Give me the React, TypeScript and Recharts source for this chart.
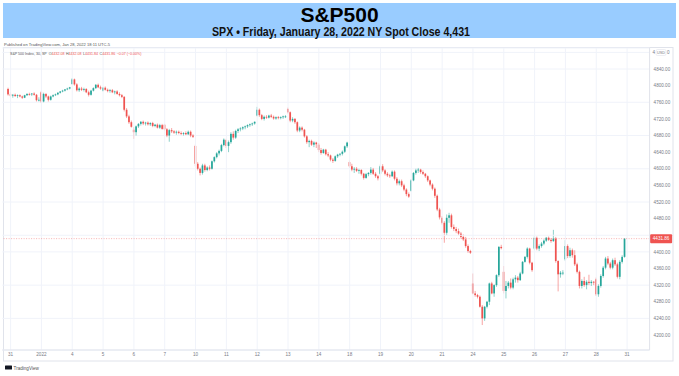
import React from "react";
import { ComposedChart, Bar, XAxis, YAxis, CartesianGrid, ReferenceLine } from "recharts";

type C = [number, number, number, number]; // open, high, low, close

const title = "S&P500";
const subtitle = "SPX \u2022 Friday, January 28, 2022 NY Spot Close 4,431";
const published = "Published on TradingView.com, Jan 28, 2022 18:11 UTC-5";
const legendName = "S&P 500 Index, 30, SP";
const legendO = "4432.08";
const legendH = "4432.08";
const legendL = "4431.84";
const legendC = "4431.86";
const legendChg = "\u22120.07 (\u22120.00%)";
const lastClose = 4431.86;

const dayLabels = ["31", "2022", "4", "5", "6", "7", "10", "11", "12", "13", "14", "18", "19", "20", "21", "24", "25", "26", "27", "28", "31"];
// labelled price ticks (4440 and 4880 are covered in the reference by the price tag / currency pill)
const yTicks = [4200, 4240, 4280, 4320, 4360, 4400, 4480, 4520, 4560, 4600, 4640, 4680, 4720, 4760, 4800, 4840];
const hiddenGridTicks = [4440, 4880];

const dec30: C[] = [[4792, 4795, 4776, 4779]];
const dec31: C[] = [
  [4779, 4784, 4772, 4776], [4776, 4780, 4771, 4778], [4778, 4781, 4773, 4775], [4775, 4779, 4770, 4777],
  [4777, 4779, 4772, 4774], [4774, 4776, 4768, 4771], [4771, 4778, 4770, 4777], [4777, 4782, 4775, 4780],
  [4780, 4783, 4776, 4779], [4779, 4782, 4775, 4781], [4781, 4784, 4776, 4778], [4778, 4780, 4762, 4765],
  [4765, 4772, 4762, 4766],
];
const jan3: C[] = [
  [4784, 4787, 4758, 4762], [4762, 4783, 4760, 4780], [4780, 4782, 4770, 4774], [4774, 4776, 4762, 4766],
  [4766, 4776, 4764, 4774], [4774, 4779, 4772, 4777], [4777, 4781, 4775, 4779], [4779, 4784, 4777, 4783],
  [4783, 4787, 4781, 4786], [4786, 4790, 4784, 4788], [4788, 4792, 4786, 4791], [4791, 4795, 4789, 4793],
  [4793, 4797, 4791, 4796],
];
const jan4: C[] = [
  [4804, 4818, 4802, 4815], [4815, 4817, 4800, 4803], [4803, 4806, 4786, 4789], [4789, 4796, 4785, 4793],
  [4793, 4797, 4787, 4790], [4790, 4795, 4786, 4792], [4792, 4794, 4782, 4784], [4784, 4788, 4774, 4778],
  [4778, 4790, 4776, 4788], [4788, 4796, 4786, 4794], [4794, 4804, 4792, 4802], [4802, 4805, 4794, 4796],
  [4796, 4800, 4790, 4793],
];
const jan5: C[] = [
  [4788, 4797, 4786, 4795], [4795, 4798, 4788, 4790], [4790, 4793, 4784, 4787], [4787, 4792, 4783, 4789],
  [4789, 4792, 4782, 4784], [4784, 4788, 4779, 4786], [4786, 4789, 4778, 4780], [4780, 4784, 4774, 4777],
  [4777, 4780, 4770, 4773], [4773, 4775, 4738, 4742], [4742, 4746, 4722, 4726], [4726, 4730, 4708, 4712],
  [4712, 4716, 4699, 4701],
];
const jan6: C[] = [
  [4694, 4700, 4672, 4688], [4688, 4704, 4680, 4702], [4702, 4710, 4698, 4708], [4708, 4715, 4704, 4713],
  [4713, 4716, 4705, 4709], [4709, 4713, 4704, 4711], [4711, 4714, 4704, 4707], [4707, 4712, 4703, 4710],
  [4710, 4713, 4700, 4703], [4703, 4708, 4700, 4706], [4706, 4709, 4697, 4699], [4699, 4708, 4696, 4705],
  [4705, 4708, 4694, 4696],
];
const jan7: C[] = [
  [4706, 4708, 4692, 4695], [4695, 4698, 4676, 4680], [4680, 4696, 4665, 4693], [4693, 4698, 4686, 4690],
  [4690, 4693, 4684, 4687], [4687, 4692, 4682, 4689], [4689, 4692, 4683, 4686], [4686, 4690, 4681, 4684],
  [4684, 4688, 4680, 4686], [4686, 4690, 4681, 4683], [4683, 4692, 4681, 4689], [4689, 4692, 4676, 4680],
  [4680, 4683, 4674, 4677],
];
const jan10: C[] = [
  [4655, 4658, 4606, 4612], [4612, 4616, 4596, 4600], [4600, 4603, 4584, 4590], [4590, 4612, 4586, 4608],
  [4608, 4612, 4593, 4597], [4597, 4606, 4594, 4603], [4603, 4608, 4596, 4600], [4600, 4620, 4598, 4618],
  [4618, 4630, 4615, 4628], [4628, 4640, 4625, 4637], [4637, 4646, 4632, 4643], [4643, 4660, 4640, 4657],
  [4657, 4673, 4654, 4670],
];
const jan11: C[] = [
  [4669, 4672, 4650, 4655], [4655, 4668, 4640, 4664], [4664, 4688, 4660, 4684], [4684, 4690, 4670, 4675],
  [4675, 4694, 4672, 4691], [4691, 4698, 4686, 4695], [4695, 4700, 4690, 4697], [4697, 4702, 4693, 4700],
  [4700, 4704, 4695, 4702], [4702, 4707, 4698, 4705], [4705, 4709, 4701, 4707], [4707, 4711, 4703, 4709],
  [4709, 4714, 4706, 4713],
];
const jan12: C[] = [
  [4728, 4749, 4726, 4742], [4742, 4745, 4725, 4729], [4729, 4732, 4717, 4720], [4720, 4728, 4716, 4725],
  [4725, 4729, 4720, 4723], [4723, 4730, 4721, 4728], [4728, 4732, 4722, 4725], [4725, 4728, 4718, 4721],
  [4721, 4726, 4718, 4724], [4724, 4727, 4719, 4722], [4722, 4726, 4719, 4724], [4724, 4728, 4720, 4726],
  [4726, 4729, 4722, 4726],
];
const jan13: C[] = [
  [4744, 4747, 4733, 4736], [4736, 4738, 4712, 4716], [4716, 4724, 4712, 4720], [4720, 4722, 4708, 4712],
  [4712, 4714, 4688, 4692], [4692, 4702, 4688, 4699], [4699, 4702, 4690, 4694], [4694, 4696, 4675, 4678],
  [4678, 4681, 4660, 4664], [4664, 4670, 4652, 4667], [4667, 4670, 4655, 4658], [4658, 4666, 4652, 4663],
  [4663, 4665, 4650, 4659],
];
const jan14: C[] = [
  [4658, 4662, 4640, 4645], [4645, 4650, 4634, 4638], [4638, 4648, 4636, 4646], [4646, 4648, 4632, 4635],
  [4635, 4640, 4628, 4632], [4632, 4634, 4618, 4622], [4622, 4626, 4614, 4619], [4619, 4632, 4617, 4630],
  [4630, 4636, 4626, 4634], [4634, 4638, 4630, 4636], [4636, 4644, 4632, 4641], [4641, 4656, 4638, 4654],
  [4654, 4665, 4650, 4663],
];
const jan18: C[] = [
  [4616, 4620, 4602, 4606], [4606, 4612, 4594, 4598], [4598, 4604, 4590, 4600], [4600, 4604, 4592, 4595],
  [4595, 4600, 4588, 4597], [4597, 4599, 4584, 4588], [4588, 4590, 4574, 4578], [4578, 4590, 4576, 4587],
  [4587, 4592, 4582, 4590], [4590, 4604, 4586, 4598], [4598, 4602, 4585, 4588], [4588, 4592, 4578, 4582],
  [4582, 4585, 4572, 4577],
];
const jan19: C[] = [
  [4588, 4610, 4584, 4606], [4606, 4611, 4592, 4596], [4596, 4599, 4584, 4588], [4588, 4592, 4580, 4584],
  [4584, 4588, 4578, 4582], [4582, 4596, 4580, 4593], [4593, 4596, 4572, 4576], [4576, 4580, 4560, 4565],
  [4565, 4574, 4560, 4570], [4570, 4574, 4556, 4560], [4560, 4564, 4546, 4550], [4550, 4553, 4534, 4539],
  [4539, 4543, 4530, 4533],
];
const jan20: C[] = [
  [4547, 4575, 4545, 4572], [4572, 4592, 4570, 4590], [4590, 4600, 4586, 4596], [4596, 4602, 4590, 4598],
  [4598, 4600, 4588, 4592], [4592, 4596, 4585, 4588], [4588, 4590, 4578, 4582], [4582, 4584, 4568, 4572],
  [4572, 4574, 4558, 4562], [4562, 4565, 4548, 4552], [4552, 4555, 4530, 4535], [4535, 4538, 4498, 4502],
  [4502, 4506, 4478, 4483],
];
const jan21: C[] = [
  [4482, 4486, 4466, 4470], [4470, 4474, 4422, 4446], [4446, 4490, 4440, 4482], [4482, 4494, 4470, 4488],
  [4488, 4492, 4456, 4460], [4460, 4466, 4450, 4455], [4455, 4460, 4445, 4450], [4450, 4456, 4440, 4444],
  [4444, 4448, 4432, 4436], [4436, 4442, 4426, 4430], [4430, 4436, 4410, 4414], [4414, 4418, 4398, 4402],
  [4402, 4405, 4395, 4398],
];
const jan24: C[] = [
  [4324, 4348, 4298, 4300], [4300, 4306, 4292, 4296], [4296, 4299, 4288, 4292], [4292, 4295, 4266, 4268],
  [4268, 4272, 4224, 4240], [4240, 4270, 4234, 4268], [4268, 4282, 4264, 4280], [4280, 4326, 4272, 4324],
  [4324, 4328, 4298, 4300], [4300, 4322, 4292, 4320], [4320, 4346, 4316, 4344], [4344, 4414, 4340, 4412],
  [4412, 4417, 4406, 4409],
];
const jan25: C[] = [
  [4352, 4366, 4300, 4306], [4306, 4330, 4288, 4318], [4318, 4330, 4312, 4326], [4326, 4336, 4310, 4314],
  [4314, 4338, 4310, 4334], [4334, 4344, 4326, 4338], [4338, 4342, 4326, 4332], [4332, 4352, 4330, 4348],
  [4348, 4378, 4346, 4376], [4376, 4390, 4374, 4388], [4388, 4411, 4384, 4408], [4408, 4410, 4370, 4374],
  [4374, 4376, 4352, 4356],
];
const jan26: C[] = [
  [4408, 4440, 4404, 4434], [4434, 4437, 4404, 4408], [4408, 4418, 4402, 4414], [4414, 4424, 4410, 4420],
  [4420, 4430, 4416, 4427], [4427, 4436, 4424, 4434], [4434, 4437, 4426, 4429], [4429, 4433, 4422, 4426],
  [4426, 4453, 4424, 4432], [4432, 4436, 4374, 4378], [4378, 4380, 4305, 4346], [4346, 4354, 4338, 4350],
  [4350, 4356, 4344, 4350],
];
const jan27: C[] = [
  [4382, 4428, 4378, 4414], [4414, 4418, 4385, 4390], [4390, 4410, 4386, 4404], [4404, 4408, 4386, 4392],
  [4392, 4404, 4366, 4370], [4370, 4374, 4348, 4352], [4352, 4355, 4312, 4318], [4318, 4334, 4312, 4330],
  [4330, 4340, 4316, 4320], [4320, 4332, 4310, 4328], [4328, 4345, 4320, 4325], [4325, 4332, 4318, 4328],
  [4328, 4330, 4320, 4326],
];
const jan28: C[] = [
  [4334, 4338, 4294, 4298], [4298, 4322, 4292, 4318], [4318, 4346, 4314, 4342], [4342, 4366, 4338, 4362],
  [4362, 4388, 4358, 4384], [4384, 4390, 4368, 4372], [4372, 4376, 4358, 4362], [4362, 4384, 4358, 4380],
  [4380, 4386, 4366, 4370], [4370, 4374, 4336, 4340], [4340, 4380, 4334, 4376], [4376, 4392, 4372, 4388],
  [4388, 4432.7, 4386, 4431.86],
];

const sessions: C[][] = [dec31, jan3, jan4, jan5, jan6, jan7, jan10, jan11, jan12, jan13, jan14, jan18, jan19, jan20, jan21, jan24, jan25, jan26, jan27, jan28];

const UP = "#26a69a";
const DOWN = "#ef5350";
const GRID = "#f0f3fa";
const BORDER = "#e0e3eb";
const TEXT = "#787b86";

type Row = { i: number; o?: number; h?: number; l?: number; c?: number };
const rows: Row[] = [];
const tickMap: Record<number, string> = {};
const LEAD = 2;
const TRAIL = 10;
const pushCandle = (k: C) => rows.push({ i: rows.length, o: k[0], h: k[1], l: k[2], c: k[3] });
for (let k = 0; k < LEAD; k++) rows.push({ i: rows.length });
dec30.forEach(pushCandle);
sessions.forEach((s, di) => {
  tickMap[rows.length] = dayLabels[di];
  s.forEach(pushCandle);
});
tickMap[rows.length] = dayLabels[dayLabels.length - 1];
for (let k = 0; k < TRAIL; k++) rows.push({ i: rows.length });
const dayTickIdx = Object.keys(tickMap).map(Number);

const CandleShape = (props: any) => {
  const { x, y, width, height, payload } = props;
  if (!payload || payload.o == null || y == null || height == null) return null;
  const { o, h, l, c } = payload;
  const top = Math.min(y, y + height);
  const bot = Math.max(y, y + height);
  const span = h - l;
  const py = (v: number) => (span > 0 ? top + ((h - v) / span) * (bot - top) : top);
  const cx = x + width / 2;
  const col = c >= o ? UP : DOWN;
  const bw = 1.7;
  const yo = py(o);
  const yc = py(c);
  const by = Math.min(yo, yc);
  const bh = Math.max(0.8, Math.abs(yo - yc));
  return (
    <g>
      <line x1={cx} x2={cx} y1={top} y2={bot} stroke={col} strokeWidth={0.7} strokeOpacity={0.75} />
      <rect x={cx - bw / 2} y={by} width={bw} height={bh} fill={col} />
    </g>
  );
};

const PriceLabel = (props: any) => {
  const vb = props.viewBox || {};
  const { x = 0, y = 0, width = 0 } = vb;
  return (
    <g>
      <rect x={x + width + 0.5} y={y - 4.5} width={22} height={9} fill={DOWN} rx={1} />
      <text x={x + width + 11.5} y={y + 1.6} fontSize={4.6} fill="#ffffff" textAnchor="middle" fontFamily="Liberation Sans, Arial, sans-serif">
        {lastClose.toFixed(2)}
      </text>
    </g>
  );
};

export default function App() {
  const W = 679;
  const H = 376;
  const font = "Liberation Sans, Arial, sans-serif";
  return (
    <div style={{ position: "absolute", left: 0, top: 0, width: W, height: H, background: "#ffffff", overflow: "hidden" }}>
      <svg width={W} height={H} style={{ position: "absolute", left: 0, top: 0 }}>
        <rect x={3} y={3} width={673} height={35} fill="#99ccff" />
        <rect x={3.5} y={47.5} width={669.5} height={313.5} fill="#ffffff" stroke={BORDER} strokeWidth={1} />
      </svg>
      <div style={{ position: "absolute", left: 0, top: 0 }}>
        <ComposedChart width={W} height={H} data={rows} margin={{ top: 48, right: 0, bottom: 15, left: 2.3 }} barCategoryGap={0}>
          <CartesianGrid horizontal={true} vertical={false} stroke={GRID} strokeWidth={1} />
          {hiddenGridTicks.map((v) => (
            <ReferenceLine key={"h" + v} y={v} stroke={GRID} strokeWidth={1} />
          ))}
          {dayTickIdx.map((d) => (
            <ReferenceLine key={"v" + d} x={d} stroke={GRID} strokeWidth={1} ifOverflow="visible" />
          ))}
          <XAxis
            dataKey="i"
            type="category"
            interval={0}
            tickLine={false}
            tickSize={0}
            tickMargin={3}
            height={11}
            axisLine={{ stroke: BORDER }}
            tick={{ fontSize: 4.6, fill: TEXT, fontFamily: font }}
            tickFormatter={(v: any) => tickMap[Number(v)] ?? ""}
          />
          <YAxis
            orientation="right"
            type="number"
            width={29.4}
            domain={[4163.9, 4890.6]}
            allowDataOverflow
            ticks={yTicks}
            tickLine={false}
            tickSize={0}
            tickMargin={4}
            axisLine={{ stroke: BORDER }}
            tick={{ fontSize: 4.6, fill: TEXT, fontFamily: font }}
            tickFormatter={(v: any) => Number(v).toFixed(2)}
          />
          <ReferenceLine y={lastClose} stroke={DOWN} strokeOpacity={0.55} strokeDasharray="1 1.5" strokeWidth={0.8} label={<PriceLabel />} />
          <Bar
            dataKey={(d: Row) => (d.o == null ? null : [d.l, d.h])}
            shape={<CandleShape />}
            isAnimationActive={false}
          />
        </ComposedChart>
      </div>
      <svg width={W} height={H} style={{ position: "absolute", left: 0, top: 0, pointerEvents: "none" }}>
        <text x={339.5} y={21.5} textAnchor="middle" fontFamily={font} fontWeight="bold" fontSize={21} fill="#000">
          {title}
        </text>
        <text x={341} y={36.3} textAnchor="middle" fontFamily={font} fontWeight="bold" fontSize={12} fill="#111" textLength={258} lengthAdjust="spacingAndGlyphs">
          {subtitle}
        </text>
        <text x={4} y={45.5} fontFamily={font} fontSize={4.1} fill="#555">
          {published}
        </text>
        <text x={10} y={54.5} fontFamily={font} fontSize={3.6} fill="#555">
          {legendName}
          <tspan dx={2}>O</tspan>
          <tspan fill={DOWN}>{legendO}</tspan>
          <tspan dx={1.5}>H</tspan>
          <tspan fill={DOWN}>{legendH}</tspan>
          <tspan dx={1.5}>L</tspan>
          <tspan fill={DOWN}>{legendL}</tspan>
          <tspan dx={1.5}>C</tspan>
          <tspan fill={DOWN}>{legendC}</tspan>
          <tspan dx={1.5} fill={DOWN}>{legendChg}</tspan>
        </text>
        <text x={652.5} y={54} fontFamily={font} fontSize={4.6} fill={TEXT}>4</text>
        <rect x={656} y={49.5} width={10} height={6} rx={1.5} fill="#ffffff" stroke={BORDER} strokeWidth={0.6} />
        <text x={661} y={53.7} textAnchor="middle" fontFamily={font} fontSize={3.8} fill={TEXT}>
          USD
        </text>
        <text x={667} y={54} fontFamily={font} fontSize={4.6} fill={TEXT}>0</text>
        <rect x={5} y={365.5} width={7} height={4} fill="#131722" rx={0.5} />
        <text x={13.5} y={369.5} fontFamily={font} fontSize={4.6} fill="#555">
          TradingView
        </text>
      </svg>
    </div>
  );
}
